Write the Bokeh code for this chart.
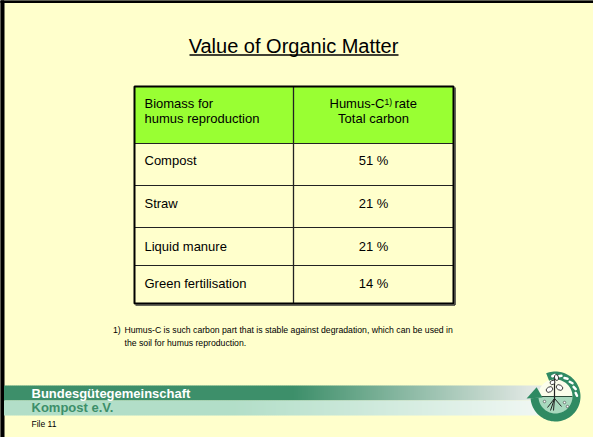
import numpy as np
from bokeh.plotting import figure
from bokeh.models import Range1d
from bokeh.core.properties import value
from bokeh.embed import file_html
from bokeh.resources import INLINE

# ---------------- content ----------------
title = "Value of Organic Matter"
header_left = ["Biomass for", "humus reproduction"]
header_right_line1 = ["Humus-C", "1)", "rate"]
header_right_line2 = "Total carbon"
biomass = ["Compost", "Straw", "Liquid manure", "Green fertilisation"]
humus_rate = [51, 21, 21, 14]
footnote_mark = "1)"
footnote_lines = ["Humus-C is such carbon part that is stable against degradation, which can be used in",
                  "the soil for humus reproduction."]
org_lines = ["Bundesgütegemeinschaft", "Kompost e.V."]
file_label = "File 11"

# ---------------- style ----------------
FONT = value("Liberation Sans")
BG = "#FFFFCC"
HEAD = "#99FF33"
DARK_GREEN = "#3D8F6A"
LOGO_GREEN = "#2F8A63"

def bl(y, fs):
    # renderer places text ~0.35em lower than the requested baseline
    return y - 0.35 * fs

p = figure(width=593, height=437, x_range=Range1d(8, 601), y_range=Range1d(445, 8),
           output_backend="svg", toolbar_location=None, min_border=0,
           x_axis_location=None, y_axis_location=None)
p.grid.visible = False
p.outline_line_color = None
p.background_fill_color = BG
p.border_fill_color = BG

# slide borders
p.quad(left=[8], right=[11.5], top=[8], bottom=[445], color="black")
p.quad(left=[8], right=[601], top=[8], bottom=[10], color="black")

# title
p.text(x=[301], y=[bl(60, 20)], text=[title], text_align="center", text_baseline="alphabetic",
       text_font_size="20px", text_font=FONT, text_color="black")
p.segment(x0=[197], y0=[62.5], x1=[406], y1=[62.5], line_color="black", line_width=1.5)

# table
tl, tm, tr = 142, 301, 461
edges = [94, 151, 193, 235, 273, 311]
p.quad(left=[tl], right=[tr], top=[edges[0]], bottom=[edges[1]], fill_color=HEAD, line_color=None)
p.segment(x0=[tl] * 4, y0=edges[1:5], x1=[tr] * 4, y1=edges[1:5], line_color="#222222", line_width=1.2)
p.segment(x0=[tm], y0=[edges[0]], x1=[tm], y1=[edges[-1]], line_color="#222222", line_width=1.3)
p.quad(left=[tl], right=[tr], top=[edges[0]], bottom=[edges[-1]], fill_color=None,
       line_color="black", line_width=2)
p.segment(x0=[tl + 1, tr + 1.5], y0=[edges[-1] + 1.5, edges[0] + 1], x1=[tr + 1.5, tr + 1.5],
          y1=[edges[-1] + 1.5, edges[-1] + 1.5], line_color="#333333", line_width=1.5)

# header texts
p.text(x=[152, 152], y=[bl(116, 13), bl(131, 13)], text=header_left, text_baseline="alphabetic",
       text_font_size="13px", text_font=FONT, text_color="black")
p.text(x=[337], y=[bl(116, 13)], text=[header_right_line1[0]], text_baseline="alphabetic",
       text_font_size="13px", text_font=FONT, text_color="black")
p.text(x=[392], y=[bl(112, 8.5)], text=[header_right_line1[1]], text_baseline="alphabetic",
       text_font_size="8.5px", text_font=FONT, text_color="black")
p.text(x=[402], y=[bl(116, 13)], text=[header_right_line1[2]], text_baseline="alphabetic",
       text_font_size="13px", text_font=FONT, text_color="black")
p.text(x=[381], y=[bl(131, 13)], text=[header_right_line2], text_align="center", text_baseline="alphabetic",
       text_font_size="13px", text_font=FONT, text_color="black")

# body texts
row_base = [bl(v, 13) for v in (172.5, 216, 258.5, 296)]
p.text(x=[152] * 4, y=row_base, text=biomass, text_baseline="alphabetic",
       text_font_size="13px", text_font=FONT, text_color="black")
p.text(x=[381] * 4, y=row_base, text=[f"{v} %" for v in humus_rate], text_align="center",
       text_baseline="alphabetic", text_font_size="13px", text_font=FONT, text_color="black")

# footnote
p.text(x=[120.5], y=[bl(341, 8.7)], text=[footnote_mark], text_baseline="alphabetic",
       text_font_size="8.7px", text_font=FONT, text_color="black")
p.text(x=[132, 132], y=[bl(341, 8.7), bl(354, 8.7)], text=footnote_lines, text_baseline="alphabetic",
       text_font_size="8.7px", text_font=FONT, text_color="black")

# bottom bands with gradients
def hexc(c):
    return "#%02x%02x%02x" % tuple(int(round(v)) for v in c)

def band(y0, y1, c_left, c_right, x_start, x_grad0, x_grad1, x_end):
    xs = np.arange(x_start, x_end, 2.0)
    cl = np.array(c_left, float)
    cr = np.array(c_right, float)
    t = np.clip((xs - x_grad0) / (x_grad1 - x_grad0), 0, 1)
    cols = [hexc(cl + (cr - cl) * ti) for ti in t]
    p.quad(left=xs, right=xs + 2.2, top=[y0] * len(xs), bottom=[y1] * len(xs),
           fill_color=cols, line_color=None)

band(393, 408, (61, 143, 106), (226, 232, 228), 11.5, 300, 540, 565)
band(408, 423, (178, 222, 200), (240, 247, 243), 11.5, 240, 545, 565)

p.text(x=[39], y=[bl(406, 13)], text=[org_lines[0]], text_baseline="alphabetic", text_font_size="13px",
       text_font=FONT, text_font_style="bold", text_color="white")
p.text(x=[39], y=[bl(419.5, 13)], text=[org_lines[1]], text_baseline="alphabetic", text_font_size="13px",
       text_font=FONT, text_font_style="bold", text_color=DARK_GREEN)
p.text(x=[39], y=[bl(434, 8.5)], text=[file_label], text_baseline="alphabetic", text_font_size="8.5px",
       text_font=FONT, text_color="black")

# logo
cx, cy, R, r = 563, 404, 25, 17

def arc(radius, t0, t1, n=80):
    t = np.radians(np.linspace(t0, t1, n))
    return cx + radius * np.cos(t), cy + radius * np.sin(t)

# inner disc
xa, ya = arc(r + 0.5, 180, 360)
p.patch(np.r_[xa], np.r_[ya], fill_color="#FBFDEB", line_color=None)
xb, yb = arc(r + 0.5, 0, 180)
p.patch(np.r_[xb], np.r_[yb], fill_color="#A8D8BE", line_color=None)
p.segment(x0=[cx - r], y0=[cy], x1=[cx + r], y1=[cy], line_color="#2A4A3A", line_width=1.2)

# ring
xo, yo = arc(R, -112, 176)
xi, yi = arc(r, 176, -112)
p.patch(np.r_[xo, xi], np.r_[yo, yi], fill_color=LOGO_GREEN, line_color=None)
# arrow head
a0, a1 = np.radians(176), np.radians(206)
rm = (R + r) / 2
hx = [cx + (R + 4) * np.cos(a0), cx + rm * np.cos(a1), cx + (r - 4) * np.cos(a0)]
hy = [cy + (R + 4) * np.sin(a0), cy + rm * np.sin(a1), cy + (r - 4) * np.sin(a0)]
p.patch(hx, hy, fill_color=LOGO_GREEN, line_color=None)
# white dashes (sun rays)
angs = np.radians([-95, -78, -60, -42, -24, -6])
dx0 = cx + (rm - 0.5) * np.cos(angs - 0.07)
dy0 = cy + (rm - 0.5) * np.sin(angs - 0.07)
dx1 = cx + (rm + 0.5) * np.cos(angs + 0.07)
dy1 = cy + (rm + 0.5) * np.sin(angs + 0.07)
p.segment(x0=dx0, y0=dy0, x1=dx1, y1=dy1, line_color="white", line_width=2.5, line_cap="round")

# plant
p.segment(x0=[cx - 1], y0=[cy + 3], x1=[cx - 1], y1=[cy - 18], line_color="#222222", line_width=1.2)
p.ellipse(x=[cx - 6, cx + 4, cx - 3, cx + 1], y=[cy - 7, cy - 9, cy - 14, cy - 19],
          width=[7, 7, 5, 4], height=[5, 5, 4, 6], angle=[0.5, -0.5, 0.4, 0.2],
          fill_color="white", line_color="#222222", line_width=0.9)
p.segment(x0=[cx - 1, cx - 1, cx - 1, cx - 1], y0=[cy + 2, cy + 2, cy + 2, cy + 2],
          x1=[cx - 8, cx + 6, cx - 2, cx - 5], y1=[cy + 11, cy + 10, cy + 14, cy + 14],
          line_color="#222222", line_width=1.0)
p.scatter(x=[cx + 9, cx - 11, cx + 12], y=[cy + 6, cy + 5, cy + 10], size=2.5,
          fill_color="white", line_color="#222222", line_width=0.5)

open("out.html", "w").write(file_html(p, INLINE))
